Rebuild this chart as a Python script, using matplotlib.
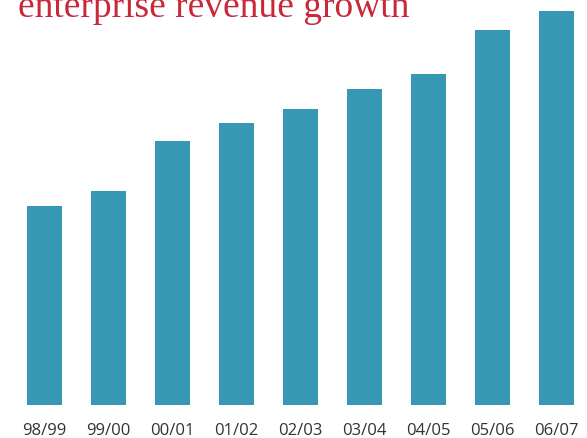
import matplotlib
matplotlib.use("Agg")
import matplotlib.pyplot as plt

categories = ["98/99", "99/00", "00/01", "01/02", "02/03", "03/04", "04/05", "05/06", "06/07"]
values = [199, 214, 264, 282, 296, 316, 331, 375, 394]

W, H = 587, 439
fig = plt.figure(figsize=(W / 100, H / 100), dpi=100)
ax = fig.add_axes([0, 33 / H, 1, 406 / H])

x = list(range(len(categories)))
ax.bar(x, values, width=35 / 64, color="#3698b2")
ax.set_xlim(-44.5 / 64, (W - 44.5) / 64)
ax.set_ylim(0, 406)
ax.set_xticks(x)
ax.set_xticklabels(categories, fontfamily="Open Sans", fontsize=12, color="#333333")
ax.tick_params(axis="x", length=0, pad=12)
ax.set_yticks([])
for s in ax.spines.values():
    s.set_visible(False)

fig.text(18 / W, 1 - 17 / H, "enterprise revenue growth", fontfamily="Liberation Serif",
         fontsize=27, color="#c8283a", va="baseline", ha="left")

fig.savefig("out.png", dpi=100)
